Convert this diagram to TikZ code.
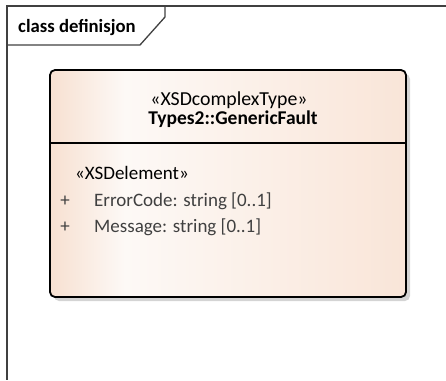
\documentclass[tikz,border=0pt]{standalone}
\usepackage{fontspec}
\setmainfont{Carlito}
\definecolor{peachL}{HTML}{F7E0D1}
\definecolor{peachR}{HTML}{F9E5D8}
\definecolor{peachM}{HTML}{FDF9F6}
\definecolor{frameC}{HTML}{404040}
\definecolor{attrC}{HTML}{404040}
\definecolor{shadowC}{HTML}{D4D4D4}
\tikzset{
  txt/.style={inner sep=0pt, anchor=base, font=\fontsize{19}{22}\selectfont},
  attr/.style={txt, anchor=base west, text=attrC},
  frameline/.style={draw=frameC, line width=1.3pt},
}
\begin{document}
\begin{tikzpicture}[x=1pt,y=-1pt]
\useasboundingbox (0,0) rectangle (446,380);
% frame
\draw[frameline] (446,6) -- (7,6) -- (7,380);
\draw[frameline] (7,45) -- (140,45) -- (165,17) -- (165,6);
\node[txt, anchor=base west, font=\bfseries\fontsize{18.7}{22}\selectfont] (title) at (18,32) {class definisjon};
% shadow
\fill[shadowC, rounded corners=5pt] (54,74) rectangle (410,301);
% body
\begin{scope}
\clip[rounded corners=5pt] (50,70) rectangle (406,297);
\shade[left color=peachL, right color=peachM] (50,70) rectangle (125,297);
\shade[left color=peachM, right color=peachR] (125,70) rectangle (406,297);
\end{scope}
\draw[line width=1.8pt, rounded corners=5pt] (50,70) rectangle (406,297);
\coordinate (divL) at (50,143);
\coordinate (divR) at (406,143);
\draw[line width=1.3pt] (divL) -- (divR);
\node[txt, font=\fontsize{19.8}{22}\selectfont] (stereo) at (229,105) {«XSDcomplexType»};
\node[txt, font=\bfseries\fontsize{19.5}{22}\selectfont] (name) at (233,124) {Types2::GenericFault};
\node[txt, anchor=base west] (elst) at (75,179) {«XSDelement»};
\node[attr, anchor=base] (p1) at (65,206) {+};
\node[attr] (a1) at (94,206) {ErrorCode: string [0..1]};
\node[attr, anchor=base] (p2) at (65,232) {+};
\node[attr] (a2) at (94,232) {Message: string [0..1]};
\end{tikzpicture}
\end{document}
